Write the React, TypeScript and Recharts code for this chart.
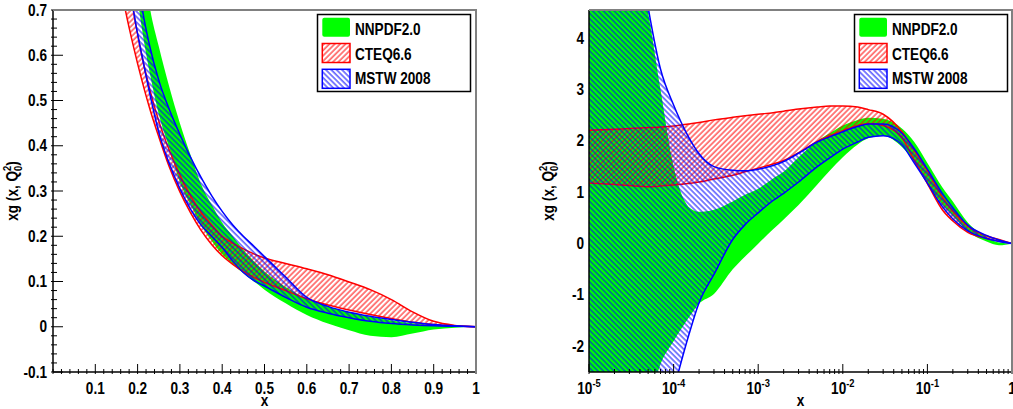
import React from "react";
import { ComposedChart, Area, XAxis, YAxis } from "recharts";

// left panel, linear x
const LIN_X = [0.15, 0.17, 0.19, 0.21, 0.23, 0.25, 0.275, 0.3, 0.325, 0.35, 0.375, 0.4, 0.425, 0.45, 0.475, 0.5, 0.55, 0.6, 0.65, 0.7, 0.75, 0.8, 0.85, 0.9, 0.95, 1.0];
const LIN_NNPDF_LO = [1.2, 0.98, 0.8, 0.66, 0.555, 0.47, 0.395, 0.32, 0.27, 0.225, 0.19, 0.16, 0.138, 0.118, 0.1, 0.082, 0.052, 0.026, 0.007, -0.008, -0.02, -0.023, -0.015, -0.006, -0.002, 0];
const LIN_NNPDF_HI = [1.5, 1.2, 0.98, 0.83, 0.7, 0.62, 0.53, 0.45, 0.38, 0.315, 0.27, 0.23, 0.2, 0.17, 0.145, 0.122, 0.088, 0.062, 0.045, 0.032, 0.022, 0.014, 0.008, 0.004, 0.001, 0];
const LIN_CTEQ_LO = [0.81, 0.705, 0.62, 0.545, 0.478, 0.42, 0.353, 0.298, 0.252, 0.213, 0.182, 0.157, 0.138, 0.122, 0.109, 0.098, 0.08, 0.062, 0.048, 0.037, 0.027, 0.018, 0.01, 0.005, 0.002, 0];
const LIN_CTEQ_HI = [1.0, 0.84, 0.7, 0.6, 0.52, 0.455, 0.39, 0.335, 0.29, 0.253, 0.225, 0.2, 0.185, 0.172, 0.161, 0.152, 0.14, 0.128, 0.115, 0.099, 0.082, 0.06, 0.033, 0.012, 0.003, 0];
const LIN_MSTW_LO = [1.05, 0.85, 0.7, 0.6, 0.51, 0.43, 0.36, 0.305, 0.26, 0.225, 0.2, 0.175, 0.145, 0.12, 0.102, 0.09, 0.065, 0.043, 0.03, 0.02, 0.012, 0.007, 0.004, 0.002, 0.001, 0];
const LIN_MSTW_HI = [1.5, 1.12, 0.87, 0.71, 0.615, 0.545, 0.48, 0.425, 0.375, 0.33, 0.29, 0.255, 0.225, 0.2, 0.178, 0.155, 0.11, 0.065, 0.045, 0.032, 0.023, 0.016, 0.01, 0.005, 0.002, 0];

// right panel, log x
const LOG_X = [1e-5, 2e-5, 3e-5, 5e-5, 7e-5, 1e-4, 1.5e-4, 2e-4, 3e-4, 5e-4, 7e-4, 1e-3, 1.5e-3, 2e-3, 3e-3, 5e-3, 7e-3, 0.01, 0.015, 0.02, 0.03, 0.05, 0.07, 0.1, 0.15, 0.2, 0.3, 0.5, 0.7, 1];
const LOG_NNPDF_LO = [-10, -6.5, -4.8, -3.2, -2.35, -1.9, -1.45, -1.17, -0.98, -0.5, -0.25, 0.0, 0.28, 0.47, 0.75, 1.15, 1.42, 1.68, 1.93, 2.05, 2.1, 1.88, 1.6, 1.18, 0.76, 0.55, 0.24, 0.04, -0.03, 0];
const LOG_NNPDF_HI = [12, 8, 6, 4.5, 3.0, 1.5, 0.72, 0.62, 0.66, 0.82, 0.95, 1.07, 1.27, 1.4, 1.68, 2.0, 2.15, 2.3, 2.41, 2.45, 2.43, 2.24, 1.98, 1.57, 1.1, 0.82, 0.41, 0.13, 0.02, 0];
const LOG_CTEQ_LO = [1.18, 1.15, 1.13, 1.11, 1.12, 1.14, 1.17, 1.2, 1.26, 1.33, 1.4, 1.47, 1.55, 1.62, 1.77, 1.99, 2.1, 2.2, 2.3, 2.34, 2.3, 2.06, 1.62, 1.17, 0.66, 0.44, 0.22, 0.1, 0.05, 0];
const LOG_CTEQ_HI = [2.21, 2.23, 2.24, 2.26, 2.27, 2.29, 2.33, 2.36, 2.41, 2.46, 2.49, 2.52, 2.55, 2.58, 2.62, 2.66, 2.68, 2.68, 2.66, 2.61, 2.52, 2.18, 1.82, 1.42, 0.91, 0.63, 0.34, 0.15, 0.08, 0];
const LOG_MSTW_LO = [-16, -10, -7, -4.8, -3.8, -2.85, -1.8, -1.15, -0.6, 0.08, 0.37, 0.6, 0.84, 0.98, 1.2, 1.5, 1.67, 1.84, 1.98, 2.07, 2.1, 1.92, 1.57, 1.18, 0.72, 0.48, 0.25, 0.1, 0.04, 0];
const LOG_MSTW_HI = [16, 10, 7, 4.6, 3.4, 2.7, 2.08, 1.75, 1.5, 1.43, 1.42, 1.45, 1.52, 1.6, 1.76, 1.98, 2.08, 2.18, 2.28, 2.33, 2.33, 2.15, 1.85, 1.45, 0.98, 0.7, 0.36, 0.16, 0.07, 0];

// labelled ticks
const LIN_X_LABELS = [0.1, 0.2, 0.3, 0.4, 0.5, 0.6, 0.7, 0.8, 0.9, 1];
const LIN_Y_LABELS = [-0.1, 0, 0.1, 0.2, 0.3, 0.4, 0.5, 0.6, 0.7];
const LOG_X_LABELS = [1e-5, 1e-4, 1e-3, 1e-2, 1e-1, 1];
const LOG_Y_LABELS = [-2, -1, 0, 1, 2, 3, 4];

const SERIES = [
  { key: "nnpdf", name: "NNPDF2.0", color: "#00ff00", hatch: 0 },
  { key: "cteq", name: "CTEQ6.6", color: "#ff0000", hatch: 45 },
  { key: "mstw", name: "MSTW 2008", color: "#0000ff", hatch: -45 },
];

const linData = LIN_X.map((x, i) => ({
  x,
  nnpdf: [LIN_NNPDF_LO[i], LIN_NNPDF_HI[i]],
  cteq: [LIN_CTEQ_LO[i], LIN_CTEQ_HI[i]],
  mstw: [LIN_MSTW_LO[i], LIN_MSTW_HI[i]],
}));
const logData = LOG_X.map((x, i) => ({
  x,
  nnpdf: [LOG_NNPDF_LO[i], LOG_NNPDF_HI[i]],
  cteq: [LOG_CTEQ_LO[i], LOG_CTEQ_HI[i]],
  mstw: [LOG_MSTW_LO[i], LOG_MSTW_HI[i]],
}));

// minor ticks every 0.02 on the linear axes, 2..9 per decade on the log one
const LIN_X_TICKS = Array.from({ length: 51 }, (_, i) => (i * 2) / 100);
const LIN_Y_TICKS = Array.from({ length: 41 }, (_, i) => (i * 2 - 10) / 100);
const LOG_X_TICKS = [
  ...LOG_X_LABELS.slice(0, -1).flatMap((d) => [1, 2, 3, 4, 5, 6, 7, 8, 9].map((m) => +(m * d).toPrecision(2))),
  1,
];

const FONT = "'Liberation Sans', Arial, Helvetica, sans-serif";
const H = 409;
const near = (list: number[], v: number) => list.some((m) => Math.abs(m - v) < 1e-9 || Math.abs(v / m - 1) < 1e-6);

function BoldText({ x, y, anchor, size = 16, children }: any) {
  return (
    <text transform={`translate(${x},${y}) scale(0.85,1)`} textAnchor={anchor} fontFamily={FONT} fontWeight="bold" fontSize={size} fill="#000">
      {children}
    </text>
  );
}

function LinXTick({ x, y, payload }: any) {
  const v = payload.value;
  const major = near(LIN_X_LABELS, v);
  return (
    <g>
      <line x1={x} x2={x} y1={y} y2={y - (major ? 10 : 5)} stroke="#000" />
      {major && <BoldText x={x} y={y + 20} anchor="middle">{String(v)}</BoldText>}
    </g>
  );
}

function LinYTick({ x, y, payload }: any) {
  const v = payload.value;
  const major = near(LIN_Y_LABELS, v);
  return (
    <g>
      <line x1={x} x2={x + (major ? 12 : 6)} y1={y} y2={y} stroke="#000" />
      {major && <BoldText x={x - 4} y={y + 5.5} anchor="end">{String(v)}</BoldText>}
    </g>
  );
}

function LogXTick({ x, y, payload }: any) {
  const v = payload.value;
  const major = near(LOG_X_LABELS, v);
  const e = Math.round(Math.log10(v));
  return (
    <g>
      <line x1={x} x2={x} y1={y} y2={y - (major ? 10 : 5)} stroke="#000" />
      {major && (
        <BoldText x={x} y={y + 20} anchor="middle">
          {e === 0 ? "1" : <>10<tspan dy={-7} fontSize={11}>{String(e)}</tspan></>}
        </BoldText>
      )}
    </g>
  );
}

function LogYTick({ x, y, payload }: any) {
  return <BoldText x={x - 3} y={y + 5.5} anchor="end">{String(payload.value)}</BoldText>;
}

function XTitle({ viewBox }: any) {
  const vb = viewBox || { x: 53, y: 372, width: 423, height: 37 };
  return <BoldText x={vb.x + vb.width / 2} y={vb.y + 34} anchor="middle">x</BoldText>;
}

function YTitle({ viewBox }: any) {
  const vb = viewBox || { x: 0, y: 10, width: 53, height: 362 };
  const cx = vb.x + vb.width - 35;
  const cy = vb.y + vb.height / 2;
  return (
    <text transform={`translate(${cx},${cy}) rotate(-90) scale(0.85,1)`} textAnchor="middle" fontFamily={FONT} fontWeight="bold" fontSize={16} fill="#000">
      xg (x, Q<tspan dy={-7} fontSize={11}>2</tspan>
      <tspan dx={-6.1} dy={11} fontSize={11}>0</tspan>
      <tspan dy={-4}>)</tspan>
    </text>
  );
}

function Hatches({ id }: { id: string }) {
  return (
    <defs>
      {SERIES.filter((s) => s.hatch).map((s) => (
        <pattern key={s.key} id={`${id}-${s.key}`} patternUnits="userSpaceOnUse" width={3.8} height={3.8} patternTransform={`rotate(${s.hatch})`}>
          <line x1={1} x2={1} y1={0} y2={3.8} stroke={s.color} strokeWidth={1} />
        </pattern>
      ))}
    </defs>
  );
}

function LegendBox({ left, id }: { left: number; id: string }) {
  return (
    <svg style={{ position: "absolute", left, top: 13 }} width={157} height={81}>
      <Hatches id={id} />
      <rect x={1.5} y={1.5} width={153} height={77} fill="#fff" stroke="#000" strokeWidth={1.5} />
      {SERIES.map((s, i) => (
        <g key={s.key}>
          <rect
            x={6.3}
            y={4.7 + i * 25.8}
            width={27.7}
            height={19}
            rx={s.hatch ? 0 : 2}
            fill={s.hatch ? `url(#${id}-${s.key})` : s.color}
            stroke={s.hatch ? s.color : "none"}
            strokeWidth={1.5}
          />
          <BoldText x={39} y={22 + i * 24.7} anchor="start">{s.name}</BoldText>
        </g>
      ))}
    </svg>
  );
}

function Panel({ id, left, width, yWidth, right, data, log }: any) {
  return (
    <div style={{ position: "absolute", left, top: 0 }}>
      <ComposedChart width={width} height={H} data={data} margin={{ top: 10, right, bottom: 0, left: 0 }}>
        <Hatches id={id} />
        <XAxis
          dataKey="x"
          type="number"
          scale={log ? "log" : "linear"}
          domain={log ? [1e-5, 1] : [0, 1]}
          allowDataOverflow
          ticks={log ? LOG_X_TICKS : LIN_X_TICKS}
          interval={0}
          tick={log ? LogXTick : LinXTick}
          tickLine={false}
          tickSize={0}
          height={37}
          axisLine={{ stroke: "#000", strokeWidth: 1.5 }}
          label={{ content: XTitle }}
        />
        <YAxis
          type="number"
          domain={log ? [-2.5, 4.55] : [-0.1, 0.7]}
          allowDataOverflow
          ticks={log ? LOG_Y_LABELS : LIN_Y_TICKS}
          interval={0}
          tick={log ? LogYTick : LinYTick}
          tickLine={false}
          tickSize={0}
          width={yWidth}
          axisLine={{ stroke: "#000", strokeWidth: 1.5 }}
          label={{ content: YTitle }}
        />
        {SERIES.map((s) => (
          <Area
            key={s.key}
            dataKey={s.key}
            name={s.name}
            type="monotone"
            fill={s.hatch ? `url(#${id}-${s.key})` : s.color}
            fillOpacity={1}
            stroke={s.hatch ? s.color : "none"}
            strokeWidth={1.5}
            dot={false}
            activeDot={false}
            isAnimationActive={false}
          />
        ))}
      </ComposedChart>
    </div>
  );
}

const frame = (left: number): React.CSSProperties => ({
  position: "absolute",
  left,
  top: 9,
  width: 424,
  height: 364,
  boxSizing: "border-box",
  borderTop: "2px solid #808080",
  borderRight: "2px solid #808080",
  pointerEvents: "none",
});

export default function App() {
  return (
    <div style={{ position: "absolute", left: 0, top: 0, width: 1013, height: H, overflow: "hidden", background: "#fff" }}>
      <Panel id="lin" left={0} width={500} yWidth={53} right={24} data={linData} log={false} />
      <Panel id="log" left={505} width={508} yWidth={84} right={1} data={logData} log />
      <div style={frame(53)} />
      <div style={frame(589)} />
      <LegendBox left={316} id="lgl" />
      <LegendBox left={853} id="lgr" />
    </div>
  );
}
